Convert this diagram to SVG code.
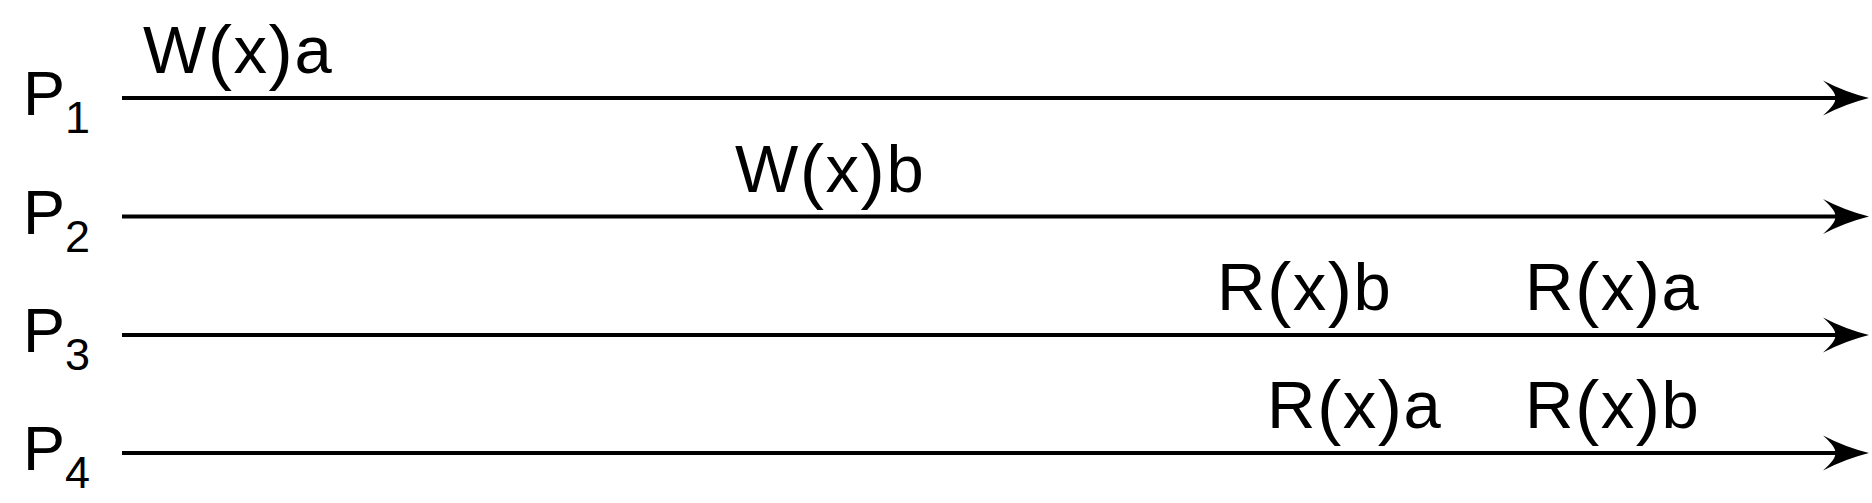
<svg xmlns="http://www.w3.org/2000/svg" width="1872" height="503" viewBox="0 0 1872 503">
<style>
.lbl{font-family:"Liberation Sans",Arial,sans-serif;font-size:67px;letter-spacing:1.5px;fill:#000}
.par{font-size:73px}
.proc{font-family:"Liberation Sans",Arial,sans-serif;font-size:63px;fill:#000}
.sub{font-size:45px}
.line{stroke:#000;stroke-width:3.8;fill:none}
</style>
<defs>
<path id="ah" d="M0,0 Q-24,-6 -46,-17.5 Q-32,-5 -34,0 Q-32,5 -46,17.5 Q-24,6 0,0 Z" fill="#000"/>
</defs>
<rect width="1872" height="503" fill="#fff"/>
<g id="connectors">
<line class="line" x1="122" y1="98" x2="1840" y2="98"/>
<use href="#ah" x="1869" y="98"/>
<line class="line" x1="122" y1="216.5" x2="1840" y2="216.5"/>
<use href="#ah" x="1869" y="216.5"/>
<line class="line" x1="122" y1="335" x2="1840" y2="335"/>
<use href="#ah" x="1869" y="335"/>
<line class="line" x1="122" y1="453" x2="1840" y2="453"/>
<use href="#ah" x="1869" y="453"/>
</g>
<g id="P1"><text class="proc" x="23" y="115">P<tspan class="sub" y="133">1</tspan></text></g>
<g id="P2"><text class="proc" x="23" y="233.5">P<tspan class="sub" y="251.5">2</tspan></text></g>
<g id="P3"><text class="proc" x="23" y="352">P<tspan class="sub" y="370">3</tspan></text></g>
<g id="P4"><text class="proc" x="23" y="470">P<tspan class="sub" y="488">4</tspan></text></g>
<g id="op-w-a"><text class="lbl" x="143" y="73">W<tspan class="par" dy="3">(</tspan><tspan dy="-3">x</tspan><tspan class="par" dy="3">)</tspan><tspan dy="-3">a</tspan></text></g>
<g id="op-w-b"><text class="lbl" x="735" y="191.5">W<tspan class="par" dy="3">(</tspan><tspan dy="-3">x</tspan><tspan class="par" dy="3">)</tspan><tspan dy="-3">b</tspan></text></g>
<g id="op-p3-r-b"><text class="lbl" x="1217" y="310">R<tspan class="par" dy="3">(</tspan><tspan dy="-3">x</tspan><tspan class="par" dy="3">)</tspan><tspan dy="-3">b</tspan></text></g>
<g id="op-p3-r-a"><text class="lbl" x="1525" y="310">R<tspan class="par" dy="3">(</tspan><tspan dy="-3">x</tspan><tspan class="par" dy="3">)</tspan><tspan dy="-3">a</tspan></text></g>
<g id="op-p4-r-a"><text class="lbl" x="1267" y="428">R<tspan class="par" dy="3">(</tspan><tspan dy="-3">x</tspan><tspan class="par" dy="3">)</tspan><tspan dy="-3">a</tspan></text></g>
<g id="op-p4-r-b"><text class="lbl" x="1525" y="428">R<tspan class="par" dy="3">(</tspan><tspan dy="-3">x</tspan><tspan class="par" dy="3">)</tspan><tspan dy="-3">b</tspan></text></g>
</svg>
